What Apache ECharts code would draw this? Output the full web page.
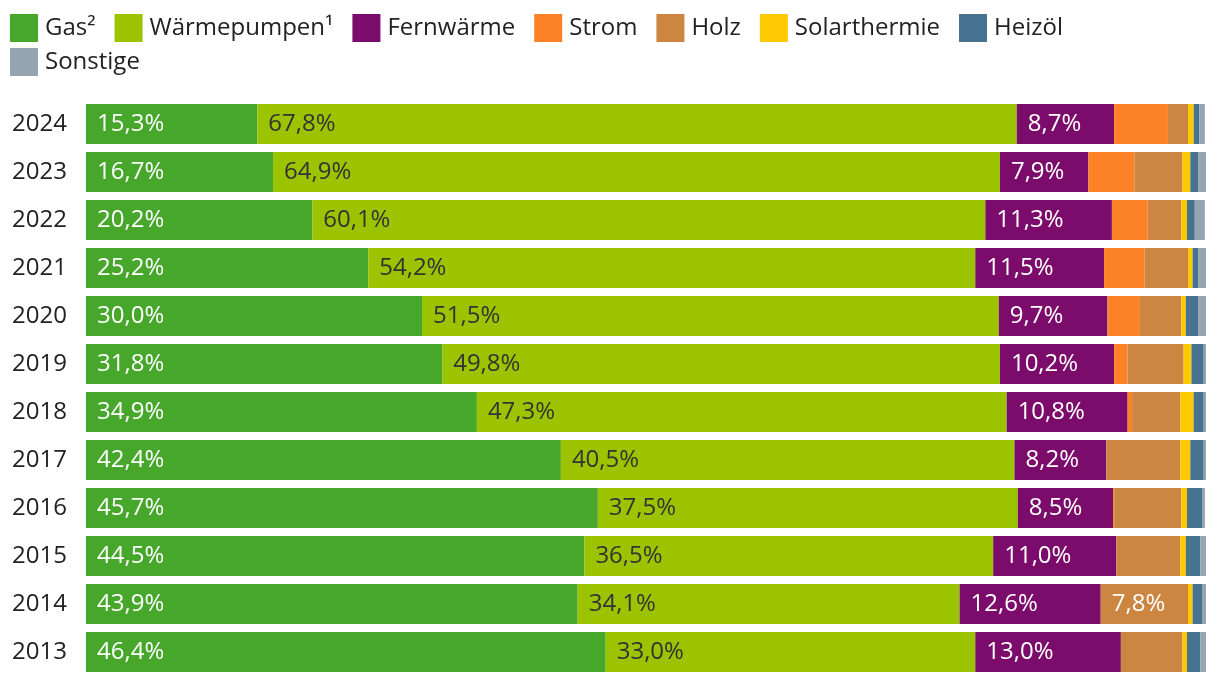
<!DOCTYPE html>
<html>
<head>
<meta charset="utf-8">
<script src="https://cdn.jsdelivr.net/npm/echarts@6/dist/echarts.min.js"></script>
<style>html,body{margin:0;padding:0;background:#fff}#c{width:1220px;height:682px}</style>
</head>
<body>
<div id="c"></div>
<script>
const years = ['2024','2023','2022','2021','2020','2019','2018','2017','2016','2015','2014','2013'];
const seriesNames = ['Gas²','Wärmepumpen¹','Fernwärme','Strom','Holz','Solarthermie','Heizöl','Sonstige'];
const colors = ['#46a72b','#9cc300','#7b0c6b','#fd8126','#cd8641','#ffc900','#477391','#95a4af'];
const gas        = [15.3,16.7,20.2,25.2,30.0,31.8,34.9,42.4,45.7,44.5,43.9,46.4];
const waermepumpen = [67.8,64.9,60.1,54.2,51.5,49.8,47.3,40.5,37.5,36.5,34.1,33.0];
const fernwaerme = [8.7,7.9,11.3,11.5,9.7,10.2,10.8,8.2,8.5,11.0,12.6,13.0];
const strom      = [4.8,4.1,3.2,3.6,2.9,1.2,0.4,0.0,0.1,0.0,0.0,0.0];
const holz       = [1.8,4.3,3.0,3.9,3.7,5.0,4.3,6.6,6.0,5.7,7.8,5.5];
const solar      = [0.5,0.7,0.5,0.4,0.4,0.7,1.2,0.9,0.5,0.5,0.4,0.4];
const heizoel    = [0.5,0.7,0.7,0.5,1.1,1.1,0.9,1.2,1.4,1.3,0.9,1.2];
const sonstige   = [0.5,0.7,0.9,0.7,0.7,0.2,0.2,0.2,0.2,0.5,0.3,0.5];
const allData = [gas,waermepumpen,fernwaerme,strom,holz,solar,heizoel,sonstige];
const labelColors = ['#fff','#333','#fff','#fff','#fff','#333','#fff','#fff'];

const chart = echarts.init(document.getElementById('c'));
const font = '"Open Sans", "Noto Sans", sans-serif';
const legendBase = {
  orient:'horizontal', left:10, padding:0, itemWidth:28, itemHeight:28, itemGap:19, icon:'rect',
  textStyle:{fontFamily:font, fontSize:24, color:'#222', padding:[0,0,0,2]}
};
chart.setOption({
  animation:false,
  textStyle:{fontFamily:font},
  color: colors,
  legend:[
    Object.assign({}, legendBase, {top:14, data: seriesNames.slice(0,7)}),
    Object.assign({}, legendBase, {top:48, data: seriesNames.slice(7)})
  ],
  grid:{left:86, right:14, top:100, bottom:6},
  xAxis:{type:'value', min:0, max:100, show:false},
  yAxis:{type:'category', data:years, inverse:true,
    axisLine:{show:false}, axisTick:{show:false},
    axisLabel:{fontFamily:font, fontSize:24, color:'#222', align:'left', margin:74}},
  series: seriesNames.map((name,i)=>({
    name, type:'bar', stack:'total', data: allData[i], barWidth:40,
    itemStyle:{color:colors[i]},
    label:{show:true, position:'insideLeft', distance:11, fontFamily:font, fontSize:24,
      color:labelColors[i],
      formatter: p => p.value >= 7 ? p.value.toFixed(1).replace('.',',') + '%' : ''}
  }))
});
</script>
</body>
</html>
